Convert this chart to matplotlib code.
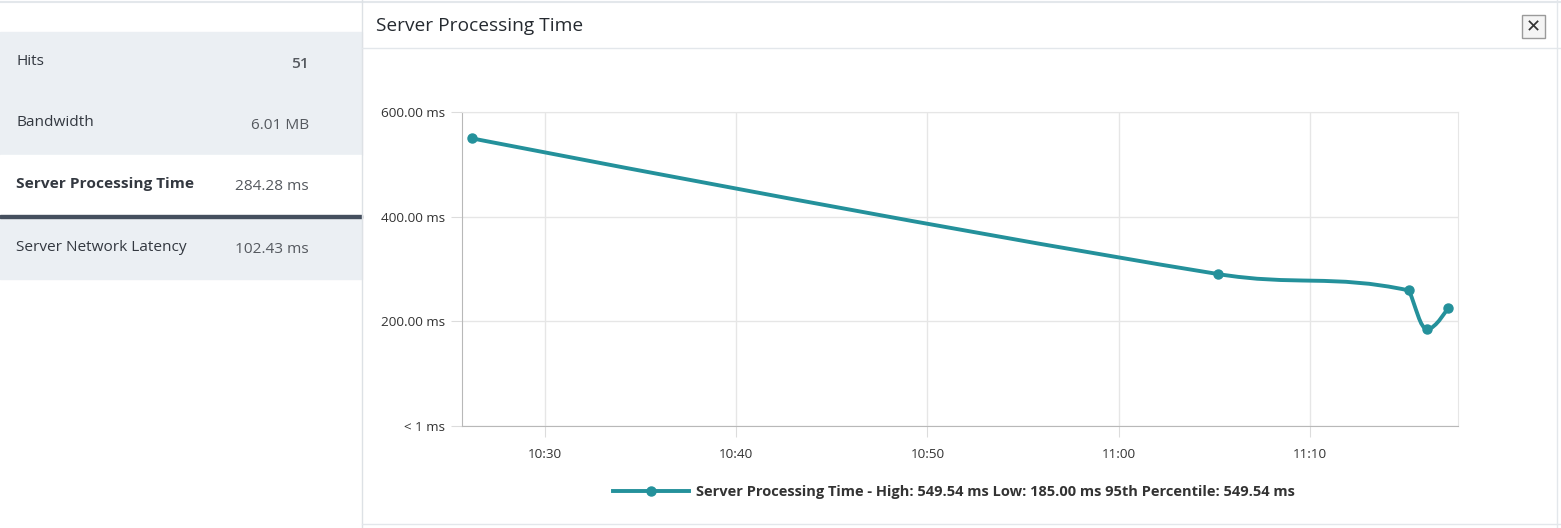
import matplotlib.pyplot as plt
import matplotlib.dates as mdates
from matplotlib.path import Path
from matplotlib.patches import PathPatch, Rectangle
from datetime import datetime

plt.rcParams['font.family'] = ['Open Sans', 'DejaVu Sans']

# data
times = ['10:26:12', '11:05:10', '11:15:10', '11:16:08', '11:17:12']
values = [549.54, 290.5, 259.0, 185.0, 225.0]
y_ticks = [0, 200, 400, 600]
y_labels = ['< 1 ms', '200.00 ms', '400.00 ms', '600.00 ms']
metric_names = ['Hits', 'Bandwidth', 'Server Processing Time', 'Server Network Latency']
metric_values = ['51', '6.01 MB', '284.28 ms', '102.43 ms']
legend_text = 'Server Processing Time - High: 549.54 ms Low: 185.00 ms 95th Percentile: 549.54 ms'

teal = '#24919b'
W, H = 1561, 528

fig = plt.figure(figsize=(W / 100, H / 100), dpi=100)

def px(x, y):
    return x / W, 1 - y / H

# left metric panel
rows = [(32, 93, '#ebeff3'), (93, 155, '#ebeff3'), (155, 215, 'white'), (218, 279, '#ebeff3')]
for (y0, y1, c), name, val in zip(rows, metric_names, metric_values):
    fig.patches.append(Rectangle(px(0, y1), 362 / W, (y1 - y0) / H, color=c,
                                 transform=fig.transFigure, zorder=0))
    bold = name == 'Server Processing Time'
    yc = (y0 + y1) / 2 - 1
    fig.text(*px(16, yc), name, fontsize=11.1, color='#333840',
             fontweight='bold' if bold else 'normal', va='center')
    fig.text(*px(309, yc + 2), val, fontsize=11.1, color='#55595f',
             fontweight='semibold' if name == 'Hits' else 'normal', va='center', ha='right')
fig.patches.append(Rectangle(px(0, 218), 362 / W, 3 / H, color='#454f5e',
                             transform=fig.transFigure, zorder=1))

# frame lines
fig.add_artist(plt.Line2D([0, 1], [1 - 1.5 / H] * 2, color='#e3e7eb', lw=1.5))
fig.add_artist(plt.Line2D([362 / W] * 2, [0, 1], color='#dde1e5', lw=1))
fig.add_artist(plt.Line2D([362 / W, 1], [1 - 48 / H] * 2, color='#e3e7eb', lw=1))
fig.add_artist(plt.Line2D([1557 / W] * 2, [0, 1], color='#e3e7eb', lw=1))
fig.add_artist(plt.Line2D([362 / W, 1], [1 - 524 / H] * 2, color='#e3e7eb', lw=1))
fig.text(*px(376, 26), 'Server Processing Time', fontsize=13.8, color='#252a30', va='center')

# close button
fig.patches.append(Rectangle(px(1522, 38), 23 / W, 23 / H, facecolor='#f4f4f4',
                             edgecolor='#9a9a9a', lw=1, transform=fig.transFigure))
fig.text(*px(1533.5, 27), '✕', fontsize=13, color='#333', ha='center', va='center',
         fontweight='bold', family=['DejaVu Sans'])

# chart
ax = fig.add_axes([462 / W, 1 - 426 / H, (1458 - 462) / W, (426 - 112) / H])
xs = [mdates.date2num(datetime.strptime('2024-01-01 ' + t, '%Y-%m-%d %H:%M:%S')) for t in times]
ys = values

# spline path (highcharts-like smoothing) between the data points
sm = 1.5
den = sm + 1
rc = [None] * len(xs)
verts = [(xs[0], ys[0])]
codes = [Path.MOVETO]
for i in range(1, len(xs)):
    x, y = xs[i], ys[i]
    lx, ly = xs[i - 1], ys[i - 1]
    lcx, lcy = x, y
    if i < len(xs) - 1:
        nx, ny = xs[i + 1], ys[i + 1]
        lcx = (sm * x + lx) / den
        lcy = (sm * y + ly) / den
        rcx = (sm * x + nx) / den
        rcy = (sm * y + ny) / den
        corr = (rcy - lcy) * (rcx - x) / (rcx - lcx) + y - rcy
        lcy += corr
        rcy += corr
        if lcy > ly and lcy > y:
            lcy = max(ly, y); rcy = 2 * y - lcy
        elif lcy < ly and lcy < y:
            lcy = min(ly, y); rcy = 2 * y - lcy
        if rcy > ny and rcy > y:
            rcy = max(ny, y); lcy = 2 * y - rcy
        elif rcy < ny and rcy < y:
            rcy = min(ny, y); lcy = 2 * y - rcy
        rc[i] = (rcx, rcy)
    p = rc[i - 1] if rc[i - 1] else (lx, ly)
    verts += [p, (lcx, lcy), (x, y)]
    codes += [Path.CURVE4] * 3
ax.add_patch(PathPatch(Path(verts, codes), fill=False, edgecolor=teal, lw=2.8,
                       capstyle='round', zorder=3))
ax.plot(xs, ys, 'o', color=teal, ms=6.5, zorder=4)

x0 = mdates.date2num(datetime(2024, 1, 1, 10, 25, 40))
x1 = mdates.date2num(datetime(2024, 1, 1, 11, 17, 44))
ax.set_xlim(x0, x1)
ax.set_ylim(0, 600)
ax.xaxis.set_major_locator(mdates.MinuteLocator(byminute=range(0, 60, 10)))
ax.xaxis.set_major_formatter(mdates.DateFormatter('%H:%M'))
ax.set_yticks(y_ticks)
ax.set_yticklabels(y_labels)
ax.grid(True, color='#e6e6e6', lw=1)
ax.set_axisbelow(True)
for s in ['top', 'right']:
    ax.spines[s].set_color('#e6e6e6')
for s in ['left', 'bottom']:
    ax.spines[s].set_color('#b8b8b8')
ax.tick_params(axis='both', length=8, color='#dcdcdc', labelsize=9.7, labelcolor='#333333')
ax.tick_params(axis='x', pad=8)
ax.tick_params(axis='y', pad=4)

handle = plt.Line2D([], [], color=teal, lw=2.8, marker='o', ms=6.5)
leg = fig.legend([handle], [legend_text], loc='center', bbox_to_anchor=(954 / W, 1 - 492 / H),
                 frameon=False, handlelength=5.2, handletextpad=0.5,
                 prop={'size': 10.5, 'weight': 'bold'})
for t in leg.get_texts():
    t.set_color('#333333')

fig.savefig('out.png', dpi=100)
